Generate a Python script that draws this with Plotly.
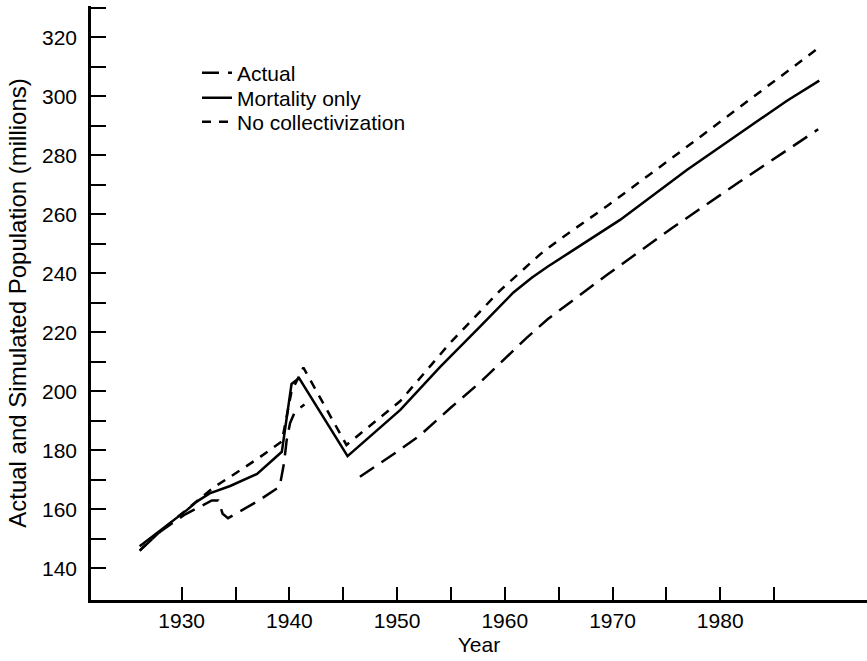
import plotly.graph_objects as go

# ---- data ----
actual_years = [1926.1, 1928.0, 1930.2, 1931.5, 1932.8, 1933.4, 1933.8, 1934.3, 1935.5, 1937.0,
                1939.1, 1939.5, 1939.75, 1940.06, 1940.5, 1941.4,
                None,
                1946.55, 1950.0, 1952.1, 1955.0, 1957.7, 1960.0, 1962.0, 1964.0, 1966.0,
                1969.5, 1975.6, 1981.8, 1989.1]
actual_pop = [146.0, 152.4, 158.0, 160.5, 163.0, 163.0, 158.5, 157.0, 159.5, 162.6,
              167.7, 175.6, 183.5, 189.2, 193.0, 195.5,
              None,
              171.0, 179.5, 185.0, 194.5, 203.0, 211.0, 218.0, 224.5, 230.0,
              239.5, 255.5, 271.0, 288.8]

mort_years = [1926.1, 1928.9, 1930.5, 1931.4, 1932.6, 1934.5, 1937.0, 1939.3, 1940.2, 1940.9,
              1945.4, 1950.3, 1954.0, 1957.7, 1960.8, 1962.5, 1964.0, 1966.0, 1970.7, 1976.9,
              1981.8, 1986.2, 1989.2]
mort_pop = [147.5, 155.3, 159.8, 162.6, 165.4, 167.9, 172.0, 179.5, 202.5, 204.5,
            178.0, 193.7, 208.3, 221.9, 233.5, 238.5, 242.3, 247.0, 258.1, 275.0,
            287.5, 298.5, 305.3]

nocoll_years = [1926.1, 1928.0, 1930.0, 1932.0, 1933.0, 1934.5, 1937.0, 1939.3, 1940.2, 1941.3,
                1945.3, 1950.3, 1954.9, 1959.6, 1962.0, 1963.3, 1965.1, 1969.5, 1975.6, 1981.8,
                1989.1]
nocoll_pop = [146.0, 152.5, 158.5, 164.5, 167.5, 171.0, 177.0, 183.0, 200.0, 208.0,
              181.8, 196.7, 216.3, 234.3, 242.0, 246.5, 251.5, 262.8, 279.3, 296.3,
              316.3]

series_names = ["Actual", "Mortality only", "No collectivization"]
x_major_ticks = [1930, 1940, 1950, 1960, 1970, 1980]
x_minor_ticks = [1935, 1945, 1955, 1965, 1975, 1985]
y_major_ticks = [140, 160, 180, 200, 220, 240, 260, 280, 300, 320]
y_minor_ticks = [150, 170, 190, 210, 230, 250, 270, 290, 310, 330]

FONT = "Liberation Sans, Arial, Helvetica, sans-serif"
LW = 2.5

fig = go.Figure()
fig.add_trace(go.Scatter(x=actual_years, y=actual_pop, mode="lines", name=series_names[0],
                         connectgaps=False, legend="legend",
                         line=dict(color="black", width=LW, dash="17px,9px")))
fig.add_trace(go.Scatter(x=mort_years, y=mort_pop, mode="lines", name=series_names[1],
                         legend="legend2",
                         line=dict(color="black", width=LW)))
fig.add_trace(go.Scatter(x=nocoll_years, y=nocoll_pop, mode="lines", name=series_names[2],
                         legend="legend3",
                         line=dict(color="black", width=LW, dash="9px,8px")))

leg_common = dict(xanchor="left", yanchor="middle", bgcolor="rgba(0,0,0,0)", borderwidth=0,
                  font=dict(family=FONT, size=21, color="black"))
LEG_X = 0.1366

fig.update_layout(
    width=867, height=661,
    margin=dict(l=91, r=0, t=6, b=61, autoexpand=False),
    paper_bgcolor="white", plot_bgcolor="white",
    font=dict(family=FONT, size=21, color="black"),
    showlegend=True,
    legend=dict(x=LEG_X, y=0.8872, **leg_common),
    legend2=dict(x=LEG_X, y=0.8451, **leg_common),
    legend3=dict(x=LEG_X, y=0.8047, **leg_common),
    xaxis=dict(
        range=[1921.58, 1993.63], showgrid=False, zeroline=False, automargin=False,
        showline=True, linecolor="black", linewidth=2.5,
        tickmode="array", tickvals=x_major_ticks, ticktext=[str(v) for v in x_major_ticks],
        ticks="inside", ticklen=13, tickwidth=2, tickcolor="black",
        minor=dict(tickmode="array", tickvals=x_minor_ticks, ticks="inside",
                   ticklen=13, tickwidth=2, tickcolor="black", showgrid=False),
        tickfont=dict(family=FONT, size=21, color="black"),
        title=dict(text="Year", font=dict(family=FONT, size=21, color="black"), standoff=7),
    ),
    yaxis=dict(
        range=[129.25, 330.6], showgrid=False, zeroline=False, automargin=False,
        showline=True, linecolor="black", linewidth=2.5,
        tickmode="array", tickvals=y_major_ticks, ticktext=[str(v) for v in y_major_ticks],
        ticks="inside", ticklen=15, tickwidth=2, tickcolor="black",
        minor=dict(tickmode="array", tickvals=y_minor_ticks, ticks="inside",
                   ticklen=15, tickwidth=2, tickcolor="black", showgrid=False),
        ticklabelstandoff=7,
        tickfont=dict(family=FONT, size=21, color="black"),
        title=dict(text="Actual and Simulated Population (millions)",
                   font=dict(family=FONT, size=24, color="black"), standoff=9),
    ),
)

fig.write_html("out.html",
               config={"displayModeBar": False},
               post_script="document.body.style.margin='0';document.body.style.overflow='hidden';")
